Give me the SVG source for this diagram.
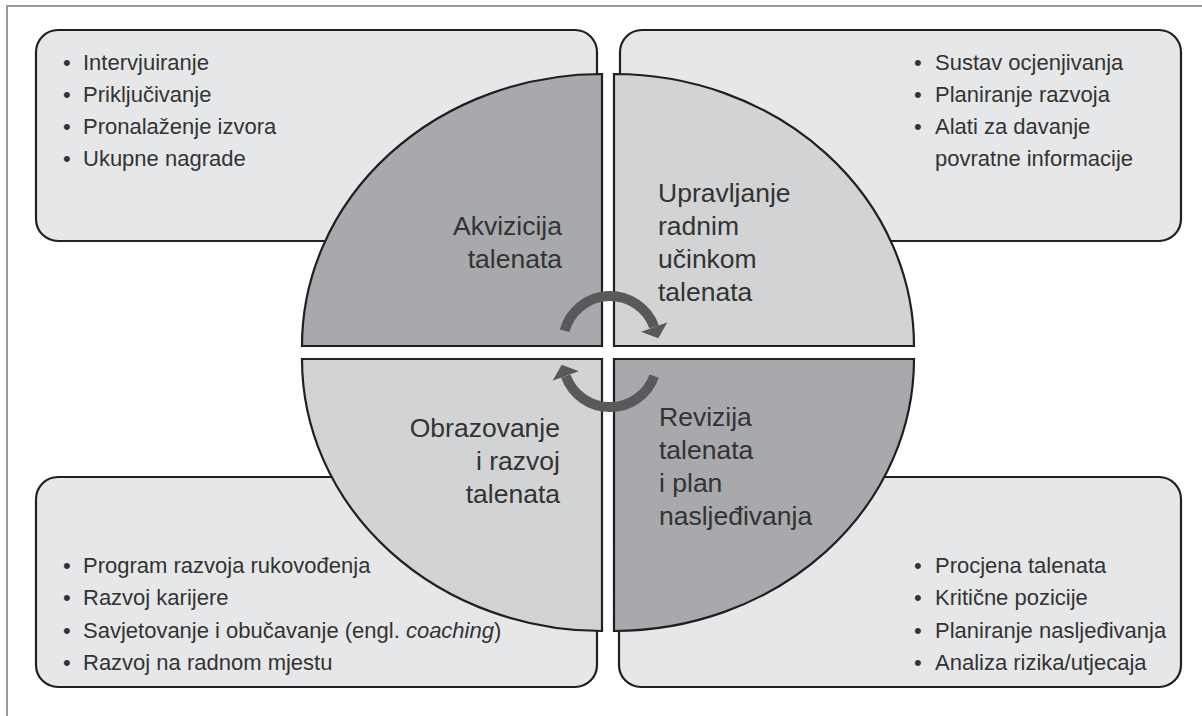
<svg xmlns="http://www.w3.org/2000/svg" width="1202" height="716" viewBox="0 0 1202 716">
  <defs>
    <style>
      .frame { fill: none; stroke: #9a9a9a; stroke-width: 2; }
      .box { fill: #e6e7e8; stroke: #231f20; stroke-width: 2.2; }
      .qdark { fill: #a7a9ac; stroke: #231f20; stroke-width: 2.2; stroke-linejoin: miter; }
      .qlight { fill: #d1d3d4; stroke: #231f20; stroke-width: 2.2; stroke-linejoin: miter; }
      .bul { font-family: "Liberation Sans", Arial, sans-serif; font-size: 22px; fill: #333333; }
      .lbl { font-family: "Liberation Sans", Arial, sans-serif; font-size: 26.5px; fill: #333333; }
      .end { text-anchor: end; }
      .arc { fill: none; stroke: #58595b; stroke-width: 10; stroke-linecap: butt; }
    </style>
    <marker id="head" markerUnits="userSpaceOnUse" viewBox="0 0 12 28" refX="0" refY="14" markerWidth="12" markerHeight="28" orient="auto">
      <path d="M0,0 L12,14 L0,28 Z" fill="#58595b"/>
    </marker>
  </defs>

  <rect x="0" y="0" width="1202" height="716" fill="#ffffff"/>
  <path class="frame" d="M7,716 L7,6 L1202,6"/>

  <g id="akvizicija">
    <rect class="box" x="36" y="30" width="561" height="211" rx="22" ry="22"/>
    <path class="qdark" d="M602,74 L602,346 L302,346 A300,272 0 0 1 602,74 Z"/>
    <text class="bul" y="70"><tspan x="63">•</tspan><tspan x="83">Intervjuiranje</tspan></text>
    <text class="bul" y="102"><tspan x="63">•</tspan><tspan x="83">Priključivanje</tspan></text>
    <text class="bul" y="134"><tspan x="63">•</tspan><tspan x="83">Pronalaženje izvora</tspan></text>
    <text class="bul" y="166"><tspan x="63">•</tspan><tspan x="83">Ukupne nagrade</tspan></text>
    <text class="lbl end" x="562" y="235">Akvizicija</text>
    <text class="lbl end" x="562" y="268">talenata</text>
  </g>

  <g id="upravljanje">
    <rect class="box" x="620" y="30" width="561" height="211" rx="22" ry="22"/>
    <path class="qlight" d="M614,74 L614,346 L914,346 A300,272 0 0 0 614,74 Z"/>
    <text class="bul" y="70"><tspan x="914">•</tspan><tspan x="935">Sustav ocjenjivanja</tspan></text>
    <text class="bul" y="102"><tspan x="914">•</tspan><tspan x="935">Planiranje razvoja</tspan></text>
    <text class="bul" y="134"><tspan x="914">•</tspan><tspan x="935">Alati za davanje</tspan></text>
    <text class="bul" x="935" y="166">povratne informacije</text>
    <text class="lbl" x="658" y="202">Upravljanje</text>
    <text class="lbl" x="658" y="235">radnim</text>
    <text class="lbl" x="658" y="268">učinkom</text>
    <text class="lbl" x="658" y="301">talenata</text>
  </g>

  <g id="obrazovanje">
    <rect class="box" x="36" y="477" width="561" height="210" rx="22" ry="22"/>
    <path class="qlight" d="M602,359 L302,359 A300,272 0 0 0 602,631 Z"/>
    <text class="bul" y="573"><tspan x="63">•</tspan><tspan x="83">Program razvoja rukovođenja</tspan></text>
    <text class="bul" y="605"><tspan x="63">•</tspan><tspan x="83">Razvoj karijere</tspan></text>
    <text class="bul" y="638"><tspan x="63">•</tspan><tspan x="83">Savjetovanje i obučavanje (engl. </tspan><tspan font-style="italic">coaching</tspan><tspan>)</tspan></text>
    <text class="bul" y="670"><tspan x="63">•</tspan><tspan x="83">Razvoj na radnom mjestu</tspan></text>
    <text class="lbl end" x="560" y="437">Obrazovanje</text>
    <text class="lbl end" x="560" y="470">i razvoj</text>
    <text class="lbl end" x="560" y="503">talenata</text>
  </g>

  <g id="revizija">
    <rect class="box" x="619" y="477" width="562" height="210" rx="22" ry="22"/>
    <path class="qdark" d="M614,359 L914,359 A300,272 0 0 1 614,631 Z"/>
    <text class="bul" y="573"><tspan x="914">•</tspan><tspan x="935">Procjena talenata</tspan></text>
    <text class="bul" y="605"><tspan x="914">•</tspan><tspan x="935">Kritične pozicije</tspan></text>
    <text class="bul" y="638"><tspan x="914">•</tspan><tspan x="935">Planiranje nasljeđivanja</tspan></text>
    <text class="bul" y="670"><tspan x="914">•</tspan><tspan x="935">Analiza rizika/utjecaja</tspan></text>
    <text class="lbl" x="659" y="426">Revizija</text>
    <text class="lbl" x="659" y="459">talenata</text>
    <text class="lbl" x="659" y="492">i plan</text>
    <text class="lbl" x="659" y="525">nasljeđivanja</text>
  </g>

  <g id="connectors">
    <path class="arc" d="M564.6,330.8 A47,47 0 0 1 654.2,326.9" marker-end="url(#head)"/>
    <path class="arc" d="M654.2,376.1 A47,47 0 0 1 565.8,376.1" marker-end="url(#head)"/>
  </g>
</svg>
